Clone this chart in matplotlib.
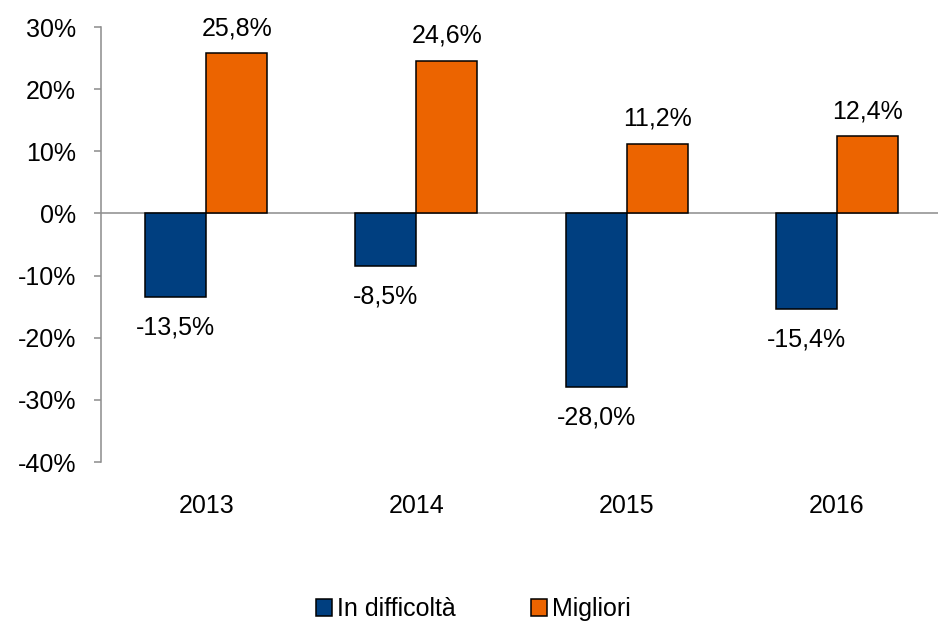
import numpy as np
import matplotlib.pyplot as plt

plt.rcParams['font.family'] = ['Liberation Sans', 'DejaVu Sans']

# data
years = ['2013', '2014', '2015', '2016']
in_difficolta = [-13.5, -8.5, -28.0, -15.4]
migliori = [25.8, 24.6, 11.2, 12.4]
yticks = [30, 20, 10, 0, -10, -20, -30, -40]

blue = '#003f80'
orange = '#ec6400'
fs = 18

fig = plt.figure(figsize=(9.38, 6.25), dpi=100)
ax = fig.add_axes([101/938, (625-462)/625, (938-101)/938, 435/625])

x = np.arange(len(years))
w = 0.29
b1 = ax.bar(x - w/2, in_difficolta, w, color=blue, edgecolor='black', linewidth=1.1, label='In difficoltà', zorder=3)
b2 = ax.bar(x + w/2, migliori, w, color=orange, edgecolor='black', linewidth=1.1, label='Migliori', zorder=3)

# value labels
for xi, v in zip(x - w/2, in_difficolta):
    ax.annotate(f'{v:.1f}%'.replace('.', ','), (xi, v), xytext=(0, -22), textcoords='offset points',
                ha='center', va='center', fontsize=fs)
for xi, v in zip(x + w/2, migliori):
    ax.annotate(f'{v:.1f}%'.replace('.', ','), (xi, v), xytext=(0, 18), textcoords='offset points',
                ha='center', va='center', fontsize=fs)

ax.axhline(0, color='#8c8c8c', linewidth=1.1, zorder=2)

ax.set_ylim(-40, 30)
ax.set_xlim(-0.5, 3.48)
ax.set_yticks(yticks)
ax.set_yticklabels([f'{t}%' for t in yticks], fontsize=fs)
ax.set_xticks(x)
ax.set_xticklabels(years, fontsize=fs)
ax.tick_params(axis='x', length=0, pad=23)
ax.tick_params(axis='y', length=5, width=1.1, color='#8c8c8c', pad=13)

for s in ['top', 'right', 'bottom']:
    ax.spines[s].set_visible(False)
ax.spines['left'].set_color('#8c8c8c')
ax.spines['left'].set_linewidth(1.1)

fig.legend(handles=[b1, b2], loc='center', bbox_to_anchor=(0.505, (625-609)/625), ncol=2, frameon=False,
           fontsize=fs, handlelength=0.65, handleheight=0.65, handletextpad=0.2, columnspacing=3.0)

fig.savefig('out.png', dpi=100)
